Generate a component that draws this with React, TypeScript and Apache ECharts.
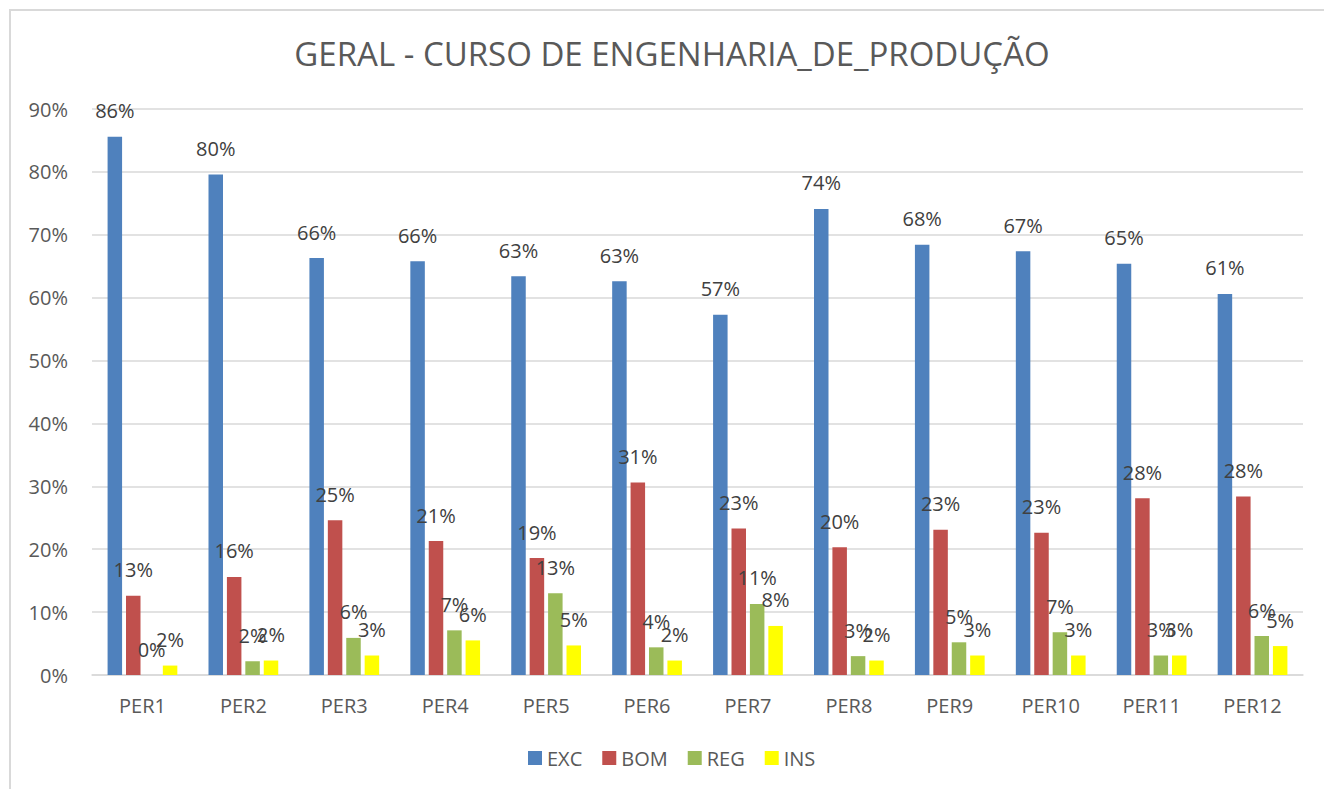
import React, { useEffect, useRef } from "react";
import * as echarts from "echarts";

const categories = ["PER1", "PER2", "PER3", "PER4", "PER5", "PER6", "PER7", "PER8", "PER9", "PER10", "PER11", "PER12"];
const excValues = [85.6, 79.6, 66.3, 65.8, 63.4, 62.6, 57.3, 74.1, 68.4, 67.4, 65.4, 60.6];
const bomValues = [12.6, 15.6, 24.6, 21.3, 18.6, 30.6, 23.3, 20.3, 23.1, 22.6, 28.1, 28.4];
const regValues = [0, 2.2, 5.9, 7.1, 13.0, 4.4, 11.3, 3.0, 5.2, 6.8, 3.1, 6.2];
const insValues = [1.5, 2.3, 3.1, 5.5, 4.7, 2.3, 7.8, 2.3, 3.1, 3.1, 3.1, 4.6];
const yTicks = { min: 0, max: 90, interval: 10 };

const FONT = "'Open Sans', 'Noto Sans', sans-serif";

export default function App() {
  const ref = useRef<HTMLDivElement>(null);
  useEffect(() => {
    if (!ref.current) return;
    const chart = echarts.init(ref.current, undefined, { renderer: "svg" });
    const mk = (name: string, data: number[], color: string) => ({
      name,
      type: "bar",
      data,
      barWidth: 14.5,
      barGap: "27%",
      itemStyle: { color },
      label: {
        show: true,
        position: "top",
        distance: 16,
        fontFamily: FONT,
        fontSize: 20,
        color: "#404040",
        formatter: (p: any) => Math.round(p.value) + "%",
      },
    });
    chart.setOption({
      animation: false,
      backgroundColor: "#ffffff",
      textStyle: { fontFamily: FONT },
      title: {
        text: "GERAL - CURSO DE ENGENHARIA_DE_PRODUÇÃO",
        left: 672,
        textAlign: "center",
        top: 37,
        padding: 0,
        textStyle: { fontFamily: FONT, fontSize: 33, fontWeight: "normal", color: "#595959" },
      },
      legend: {
        data: ["EXC", "BOM", "REG", "INS"],
        left: 528,
        top: 748,
        padding: 0,
        itemWidth: 14,
        itemHeight: 14,
        itemGap: 20,
        icon: "rect",
        textStyle: { fontFamily: FONT, fontSize: 20, color: "#595959" },
      },
      grid: { left: 92, right: 21, top: 109, bottom: 114, containLabel: false },
      xAxis: {
        type: "category",
        data: categories,
        axisLine: { lineStyle: { color: "#d9d9d9", width: 1.5 } },
        axisTick: { show: false },
        axisLabel: { fontFamily: FONT, fontSize: 20, color: "#595959", margin: 20 },
      },
      yAxis: {
        type: "value",
        min: yTicks.min,
        max: yTicks.max,
        interval: yTicks.interval,
        axisLine: { show: false },
        axisTick: { show: false },
        axisLabel: { fontFamily: FONT, fontSize: 20, color: "#595959", margin: 24, formatter: "{value}%" },
        splitLine: { lineStyle: { color: "#d9d9d9", width: 1.5 } },
      },
      graphic: [
        {
          type: "rect",
          shape: { x: 10, y: 10, width: 1340, height: 800 },
          style: { fill: "none", stroke: "#d9d9d9", lineWidth: 2 },
          silent: true,
        },
      ],
      series: [
        mk("EXC", excValues, "#4f81bd"),
        mk("BOM", bomValues, "#c0504d"),
        mk("REG", regValues, "#9bbb59"),
        mk("INS", insValues, "#ffff00"),
      ],
    });
    return () => chart.dispose();
  }, []);
  return (
    <div
      ref={ref}
      style={{ position: "absolute", left: 0, top: 0, width: 1324, height: 789 }}
    />
  );
}
